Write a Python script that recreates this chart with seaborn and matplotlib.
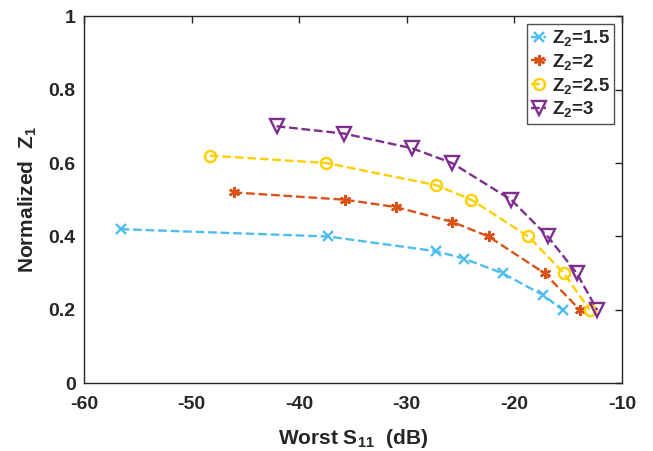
import matplotlib
matplotlib.use("Agg")
import matplotlib.pyplot as plt
import numpy as np
import pandas as pd
import seaborn as sns

# Worst-case S11 (dB) versus normalized Z1 for four Z2 values
s11_z2_15 = [-56.6, -37.3, -27.3, -24.7, -21.1, -17.3, -15.5]
z1_z2_15 = [0.42, 0.40, 0.36, 0.34, 0.30, 0.24, 0.20]

s11_z2_2 = [-46.1, -35.7, -31.0, -25.8, -22.4, -17.2, -13.9]
z1_z2_2 = [0.52, 0.50, 0.48, 0.44, 0.40, 0.30, 0.20]

s11_z2_25 = [-48.3, -37.5, -27.3, -24.0, -18.7, -15.4, -13.0]
z1_z2_25 = [0.62, 0.60, 0.54, 0.50, 0.40, 0.30, 0.20]

s11_z2_3 = [-42.1, -35.8, -29.5, -25.8, -20.3, -16.9, -14.2, -12.3]
z1_z2_3 = [0.70, 0.68, 0.64, 0.60, 0.50, 0.40, 0.30, 0.20]

series_labels = [r"$\mathbf{Z_2}$=1.5", r"$\mathbf{Z_2}$=2",
                 r"$\mathbf{Z_2}$=2.5", r"$\mathbf{Z_2}$=3"]
x_ticks = [-60, -50, -40, -30, -20, -10]
y_ticks = [0, 0.2, 0.4, 0.6, 0.8, 1]

sns.set_theme(style="white")
plt.rcParams["font.family"] = ["Liberation Sans", "DejaVu Sans"]
plt.rcParams["font.weight"] = "bold"
plt.rcParams["mathtext.fontset"] = "custom"
plt.rcParams["mathtext.bf"] = "Liberation Sans:bold"
plt.rcParams["mathtext.rm"] = "Liberation Sans:bold"

frames = []
for lab, xs, ys in zip(series_labels,
                       [s11_z2_15, s11_z2_2, s11_z2_25, s11_z2_3],
                       [z1_z2_15, z1_z2_2, z1_z2_25, z1_z2_3]):
    frames.append(pd.DataFrame({"s11": xs, "z1": ys, "series": lab}))
df = pd.concat(frames, ignore_index=True)

colors = ["#4DBEEE", "#D95319", "#FFCF00", "#7E2F8E"]
markers = ["x", (6, 2, 0), "o", "v"]
msizes = [7, 8, 8, 9.5]

fig = plt.figure(figsize=(6.53, 4.51), dpi=100)
ax = fig.add_axes([0.1286, 0.1497, 0.8239, 0.8148])

for lab, c, m, ms in zip(series_labels, colors, markers, msizes):
    sub = df[df["series"] == lab]
    sns.lineplot(data=sub, x="s11", y="z1", ax=ax, color=c, linestyle="--",
                 linewidth=1.7, marker=m, markersize=ms,
                 markerfacecolor="none" if m in ("o", "v") else c,
                 markeredgecolor=c, markeredgewidth=1.7,
                 label=lab, sort=False, estimator=None)

ax.set_xlim(-60, -10)
ax.set_ylim(0, 1)
ax.set_xticks(x_ticks)
ax.set_yticks(y_ticks)
ax.set_xticklabels([str(t) for t in x_ticks])
ax.set_yticklabels(["0", "0.2", "0.4", "0.6", "0.8", "1"])
ax.tick_params(direction="in", length=5, width=1, colors="#262626",
               top=True, right=True, labelsize=14)
ax.tick_params(axis="x", pad=9)
ax.tick_params(axis="y", pad=6)
for lbl in ax.get_xticklabels() + ax.get_yticklabels():
    lbl.set_fontweight("bold")
for sp in ax.spines.values():
    sp.set_color("#262626")
    sp.set_linewidth(1.0)

ax.set_xlabel(r"Worst $\mathbf{S_{11}}$  (dB)", fontsize=15, fontweight="bold",
              labelpad=10)
ax.set_ylabel(r"Normalized  $\mathbf{Z_1}$", fontsize=15, fontweight="bold",
              labelpad=7)

leg = ax.legend(loc="upper right", fontsize=13.5, handlelength=0.8,
                handletextpad=0.3, borderpad=0.25, labelspacing=0.2,
                frameon=True, fancybox=False, borderaxespad=0.4)
leg.get_frame().set_edgecolor("#262626")
leg.get_frame().set_linewidth(1.0)
for t in leg.get_texts():
    t.set_fontweight("bold")

fig.savefig("out.png", dpi=100)
